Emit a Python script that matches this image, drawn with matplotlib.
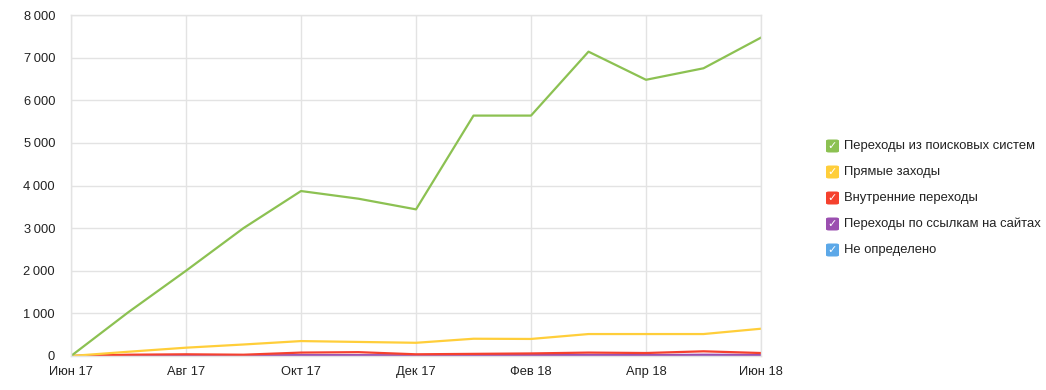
import matplotlib.pyplot as plt
from matplotlib.patches import FancyBboxPatch
import numpy as np

plt.rcParams["font.family"] = ["Liberation Sans", "DejaVu Sans"]

months = ["Июн 17", "Июл 17", "Авг 17", "Сен 17", "Окт 17", "Ноя 17", "Дек 17",
          "Янв 18", "Фев 18", "Мар 18", "Апр 18", "Май 18", "Июн 18"]
search = [0, 1030, 2000, 3000, 3870, 3690, 3440, 5640, 5640, 7140, 6480, 6750, 7470]
direct = [0, 100, 195, 270, 350, 330, 310, 405, 400, 515, 515, 515, 640]
internal = [0, 30, 40, 30, 80, 90, 40, 50, 60, 80, 70, 110, 70]
links = [0, 10, 15, 12, 20, 20, 15, 25, 20, 25, 20, 30, 25]
unknown = [0, 5, 8, 6, 8, 8, 6, 8, 8, 10, 8, 10, 8]
yticks = list(range(0, 8001, 1000))

series = [
    ("Переходы из поисковых систем", search, "#8cc152"),
    ("Прямые заходы", direct, "#ffce3a"),
    ("Внутренние переходы", internal, "#f5412e"),
    ("Переходы по ссылкам на сайтах", links, "#9b4fb0"),
    ("Не определено", unknown, "#5ca8e8"),
]

fig = plt.figure(figsize=(10.46, 3.9), dpi=100)
ax = fig.add_axes([71 / 1046, 34 / 390, 690 / 1046, 341 / 390])
x = np.arange(len(months))

for label, vals, color in reversed(series):
    ax.plot(x, vals, color=color, linewidth=1.6)

ax.set_xlim(0, len(months) - 1)
ax.set_ylim(0, 8000)
ax.set_xticks(x[::2])
ax.set_xticklabels(months[::2])
ax.set_yticks(yticks)
ax.set_yticklabels([f"{v:,}".replace(",", "\u2009") for v in yticks])
ax.tick_params(axis="both", length=0, labelsize=9.3, colors="#222222")
ax.tick_params(axis="y", pad=11.5)
ax.tick_params(axis="x", pad=7)
ax.grid(True, color="#e3e3e3", linewidth=1)
ax.set_axisbelow(True)
for s in ax.spines.values():
    s.set_color("#e3e3e3")
    s.set_linewidth(1)

# legend with check boxes
for i, (label, vals, color) in enumerate(series):
    yc = 1 - (146 + 26 * i) / 390
    box = FancyBboxPatch((826 / 1046, yc - 6.5 / 390), 13 / 1046, 13 / 390,
                         boxstyle="round,pad=0,rounding_size=0.003",
                         transform=fig.transFigure, facecolor=color,
                         edgecolor="none")
    fig.patches.append(box)
    fig.text(832.5 / 1046, yc, "✓", color="white", fontsize=8, fontweight="bold",
             ha="center", va="center", family="DejaVu Sans")
    fig.text(844 / 1046, yc, label, fontsize=9.4, color="#222222", va="center")

plt.savefig("out.png", dpi=100)
plt.close()
